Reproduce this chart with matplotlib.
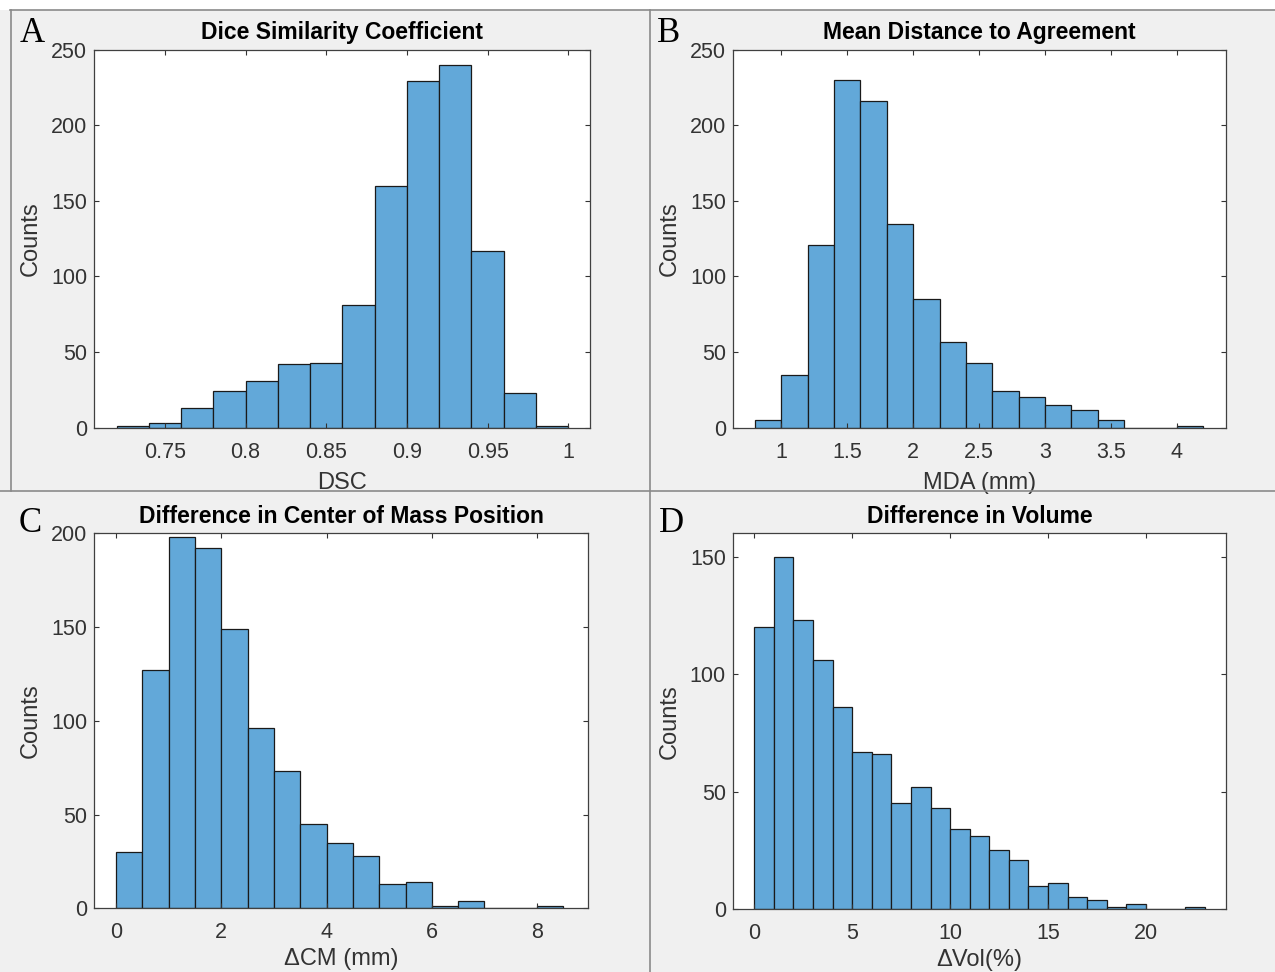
import matplotlib
matplotlib.use("Agg")
import matplotlib.pyplot as plt
import numpy as np
from matplotlib.lines import Line2D

# ---------------- data ----------------
dsc_edges_start, dsc_bin_w = 0.72, 0.02
dsc_counts = [1, 3, 13, 24, 31, 42, 43, 81, 160, 229, 240, 117, 23, 1]

mda_edges_start, mda_bin_w = 0.8, 0.2
mda_counts = [5, 35, 121, 230, 216, 135, 85, 57, 43, 24, 20, 15, 12, 5, 0, 0, 1]

dcm_edges_start, dcm_bin_w = 0.0, 0.5
dcm_counts = [30, 127, 198, 192, 149, 96, 73, 45, 35, 28, 13, 14, 1, 4, 0, 0, 1]

dvol_edges_start, dvol_bin_w = 0.0, 1.0
dvol_counts = [120, 150, 123, 106, 86, 67, 66, 45, 52, 43, 34, 31, 25, 21, 10, 11,
               5, 4, 1, 2, 0, 0, 1]

titles = ["Dice Similarity Coefficient", "Mean Distance to Agreement",
          "Difference in Center of Mass Position", "Difference in Volume"]
xlabels = ["DSC", "MDA (mm)", "\u0394CM (mm)", "\u0394Vol(%)"]
letters = ["A", "B", "C", "D"]
xticks_list = [[0.75, 0.8, 0.85, 0.9, 0.95, 1],
               [1, 1.5, 2, 2.5, 3, 3.5, 4],
               [0, 2, 4, 6, 8],
               [0, 5, 10, 15, 20]]
xticklabels_list = [["0.75", "0.8", "0.85", "0.9", "0.95", "1"],
                    ["1", "1.5", "2", "2.5", "3", "3.5", "4"],
                    ["0", "2", "4", "6", "8"],
                    ["0", "5", "10", "15", "20"]]
yticks_list = [[0, 50, 100, 150, 200, 250],
               [0, 50, 100, 150, 200, 250],
               [0, 50, 100, 150, 200],
               [0, 50, 100, 150]]
xlims = [(0.7062, 1.0135), (0.633, 4.37), (-0.41, 8.96), (-1.1, 24.1)]
ylims = [(0, 250), (0, 250), (0, 200), (0, 160)]

# ---------------- figure ----------------
W, H = 1275, 972
fig = plt.figure(figsize=(W / 100, H / 100), dpi=100, facecolor="#f0f0f0")
plt.rcParams["font.family"] = ["Liberation Sans", "DejaVu Sans"]

# white strip at top and panel borders
fig.patches.append(matplotlib.patches.Rectangle((0, 1 - 10 / H), 1, 10 / H,
                   transform=fig.transFigure, facecolor="white", edgecolor="none", zorder=0))

def fline(x0, y0, x1, y1, c="#8a8a8a", lw=1.2):
    fig.add_artist(Line2D([x0 / W, x1 / W], [1 - y0 / H, 1 - y1 / H],
                          color=c, lw=lw, transform=fig.transFigure))

fline(10, 10.5, W, 10.5)
fline(10.5, 10, 10.5, 491)
fline(0, 491, W, 491)
fline(649.5, 10, 649.5, H)

# axes rectangles in pixels: left, right, top, bottom
rects = [(94.3, 590, 49.7, 427.7),
         (733, 1225.7, 49.7, 427.7),
         (94.3, 587.7, 533.3, 908.3),
         (732.7, 1226.3, 533.3, 909)]
letter_pos = [(20, 34), (657, 34), (19, 523), (659, 524)]
xlabel_pads = [7, 7, 3.5, 3.5]

datasets = [(dsc_edges_start, dsc_bin_w, dsc_counts),
            (mda_edges_start, mda_bin_w, mda_counts),
            (dcm_edges_start, dcm_bin_w, dcm_counts),
            (dvol_edges_start, dvol_bin_w, dvol_counts)]

face = "#62a8d9"
tc = "#333333"
for i, ((l, r, t, b), (e0, bw, counts)) in enumerate(zip(rects, datasets)):
    ax = fig.add_axes([l / W, 1 - b / H, (r - l) / W, (b - t) / H])
    ax.set_facecolor("white")
    lefts = e0 + bw * np.arange(len(counts))
    ax.bar(lefts, counts, width=bw, align="edge", color=face,
           edgecolor="#1a1a1a", linewidth=0.9)
    ax.set_xlim(*xlims[i])
    ax.set_ylim(*ylims[i])
    ax.set_xticks(xticks_list[i])
    ax.set_xticklabels(xticklabels_list[i])
    ax.set_yticks(yticks_list[i])
    ax.tick_params(direction="in", length=3.5, width=0.8, colors=tc,
                   labelsize=15.5, top=True, right=True)
    ax.tick_params(axis="x", pad=10)
    ax.tick_params(axis="y", pad=5)
    for s in ax.spines.values():
        s.set_color("#404040")
        s.set_linewidth(0.9)
    ax.set_title(titles[i], fontsize=16.5, fontweight="bold", color="black", pad=7.5)
    ax.set_xlabel(xlabels[i], fontsize=17, color=tc, labelpad=xlabel_pads[i])
    ax.set_ylabel("Counts", fontsize=17, color=tc, labelpad=6.5)
    lx, ly = letter_pos[i]
    fig.text(lx / W, 1 - ly / H, letters[i], fontsize=25,
             family=["Liberation Serif", "DejaVu Serif"], va="center", ha="left",
             color="black")

fig.savefig("out.png", dpi=100, facecolor=fig.get_facecolor())
